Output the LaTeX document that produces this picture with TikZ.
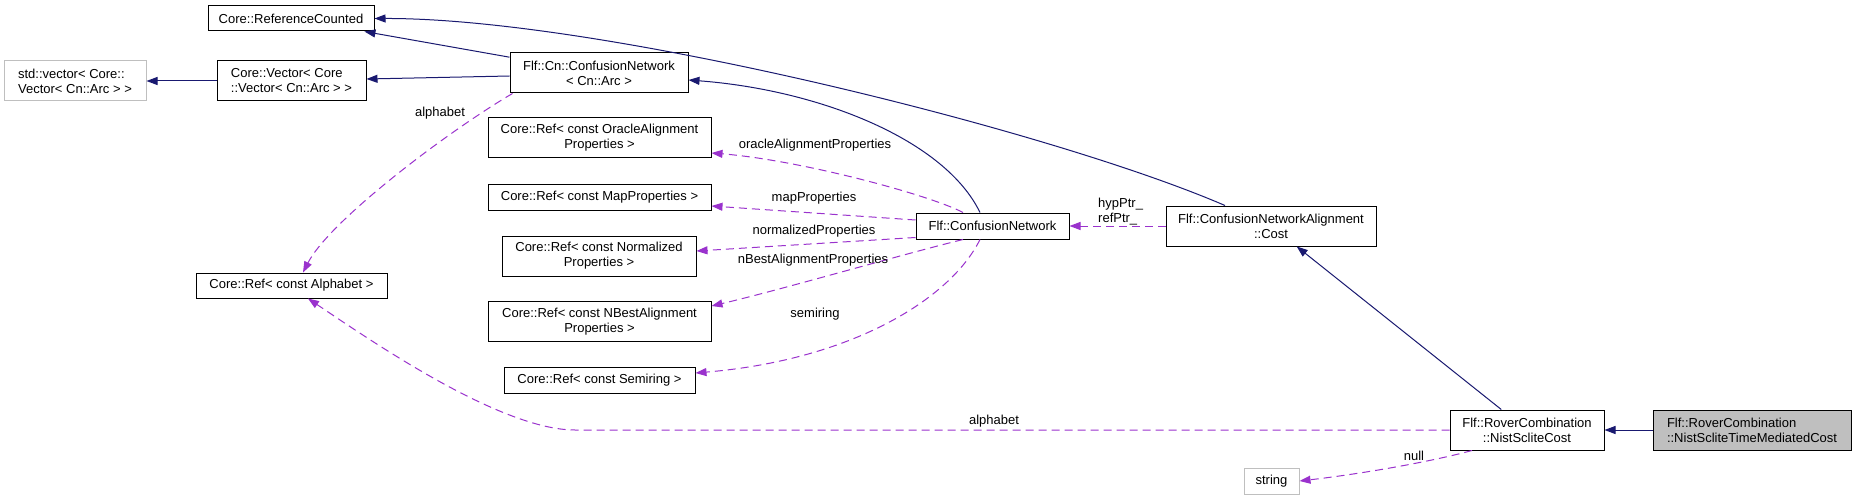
\documentclass[tikz,border=0pt]{standalone}
\usepackage{fontspec}
\setmainfont{Liberation Sans}
\usetikzlibrary{arrows.meta}
\definecolor{navy}{HTML}{191970}
\definecolor{orchid}{HTML}{9A32CD}
\definecolor{lgray}{HTML}{BFBFBF}
\begin{document}
\begin{tikzpicture}[x=1pt,y=-1pt,
  box/.style={draw=black,line width=1pt,fill=white,inner sep=0pt,align=center,font=\fontsize{13}{15}\selectfont},
  gbox/.style={box,draw=lgray},
  inh/.style={draw=navy,line width=1pt,-{Triangle[length=11pt,width=8pt]}},
  use/.style={draw=orchid,line width=1pt,dash pattern=on 8pt off 5pt,-{Triangle[length=11pt,width=8pt]}},
  lab/.style={font=\fontsize{13}{15}\selectfont,inner sep=0pt}]
\fill[white] (0,0) rectangle (1856,500);
\useasboundingbox (0,0) rectangle (1856,500);
% nodes
\node[box,minimum width=166pt,minimum height=25pt] (refc) at (291,18.5) {Core::ReferenceCounted};
\node[gbox,align=left,minimum width=142pt,minimum height=40pt] (stdvec) at (75,81) {std::vector< Core::\\Vector< Cn::Arc > >};
\node[box,align=left,minimum width=149pt,minimum height=40pt] (corevec) at (291.5,81) {Core::Vector< Core\\::Vector< Cn::Arc > >};
\node[box,minimum width=178pt,minimum height=40pt] (cn) at (599,73) {Flf::Cn::ConfusionNetwork\\< Cn::Arc >};
\node[box,minimum width=223pt,minimum height=40pt] (oracle) at (599.5,138) {Core::Ref< const OracleAlignment\\Properties >};
\node[box,minimum width=223pt,minimum height=25pt] (mapp) at (599.5,197.5) {Core::Ref< const MapProperties >};
\node[box,minimum width=194pt,minimum height=40pt] (norm) at (599,256) {Core::Ref< const Normalized\\Properties >};
\node[box,minimum width=223pt,minimum height=40pt] (nbest) at (599.5,321.5) {Core::Ref< const NBestAlignment\\Properties >};
\node[box,minimum width=191pt,minimum height=26pt] (semi) at (599.5,380) {Core::Ref< const Semiring >};
\node[box,minimum width=191pt,minimum height=25pt] (alpha) at (291.5,285.5) {Core::Ref< const Alphabet >};
\node[box,minimum width=153pt,minimum height=26pt] (cnet) at (992.5,226) {Flf::ConfusionNetwork};
\node[box,minimum width=210pt,minimum height=40pt] (cost) at (1271,226) {Flf::ConfusionNetworkAlignment\\::Cost};
\node[box,minimum width=154pt,minimum height=40pt] (nist) at (1527,430) {Flf::RoverCombination\\::NistScliteCost};
\node[box,fill=lgray,align=left,minimum width=198pt,minimum height=40pt] (tmc) at (1752,430) {Flf::RoverCombination\\::NistScliteTimeMediatedCost};
\node[gbox,minimum width=55pt,minimum height=26pt] (str) at (1271.5,481) {string};
% inheritance edges
\draw[inh] (cn) -- (refc);
\draw[inh] ([xshift=-46pt]cost.north) .. controls (1050,130) and (600,18) .. (refc.east);
\draw[inh] ([yshift=-3pt]cn.west) -- ([yshift=2pt]corevec.east);
\draw[inh] (corevec) -- (stdvec);
\draw[inh] ([xshift=-12.5pt]cnet.north) .. controls (945,140) and (820,90) .. ([yshift=-7pt]cn.east);
\draw[inh] (nist) -- (cost);
\draw[inh] (tmc) -- (nist);
% usage edges
\draw[use] (cost) -- (cnet);
\draw[use] ([xshift=-29.5pt]cnet.north) .. controls (930,195) and (800,160) .. ([yshift=-15pt]oracle.east);
\draw[use] ([yshift=6pt]cnet.west) -- ([yshift=-8.5pt]mapp.east);
\draw[use] ([yshift=2pt]cnet.south west) -- ([yshift=5pt]norm.east);
\draw[use] ([xshift=-29.5pt]cnet.south) .. controls (900,255) and (780,290) .. ([yshift=15.5pt]nbest.east);
\draw[use] ([xshift=-12.5pt]cnet.south) .. controls (950,300) and (850,360) .. ([yshift=7pt]semi.east);
\draw[use] ([xshift=3pt]cn.south west) .. controls (450,130) and (330,220) .. ([xshift=11.5pt]alpha.north);
\draw[use] (nist.west) -- (575,430) .. controls (500,430) and (370,340) .. ([xshift=16.5pt]alpha.south);
\draw[use] ([xshift=-55pt]nist.south) .. controls (1430,462) and (1360,474) .. (str.east);
% labels
\node[lab] (l1) at (440,113) {alphabet};
\node[lab] (l2) at (815,145) {oracleAlignmentProperties};
\node[lab] (l3) at (814,198) {mapProperties};
\node[lab] (l4) at (814,231) {normalizedProperties};
\node[lab] (l5) at (813,260) {nBestAlignmentProperties};
\node[lab] (l6) at (815,314) {semiring};
\node[lab,align=left,anchor=west] (l7) at (1098,211.5) {hypPtr\_\\refPtr\_};
\node[lab] (l8) at (994,421) {alphabet};
\node[lab] (l9) at (1414,456) {null};
\end{tikzpicture}
\end{document}
